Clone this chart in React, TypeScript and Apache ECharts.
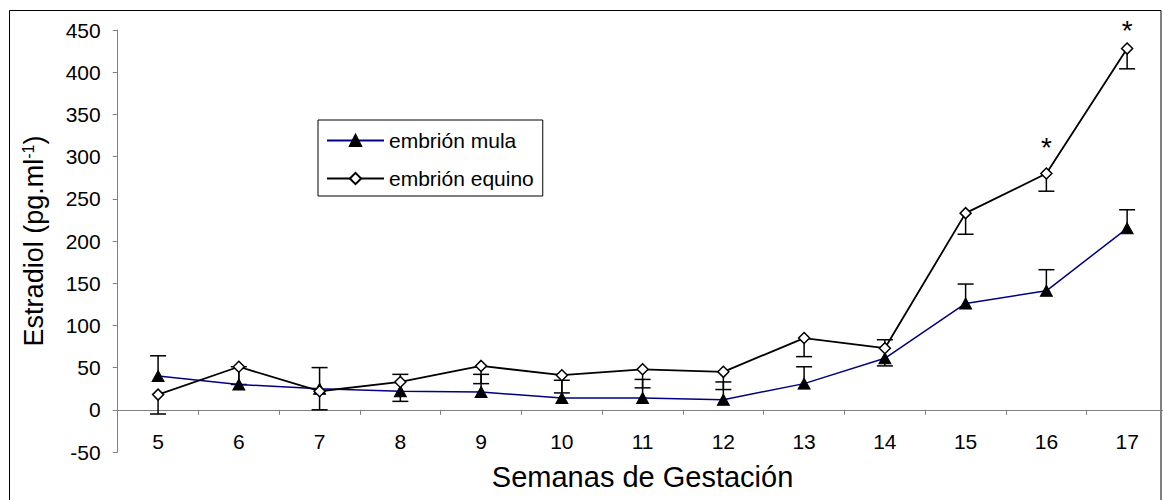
import React, { useEffect, useRef } from 'react';
import * as echarts from 'echarts';

const weeks = ['5', '6', '7', '8', '9', '10', '11', '12', '13', '14', '15', '16', '17'];
const mulaMean = [40, 30, 25, 22, 21, 14, 14, 12, 31, 61, 126, 141, 215];
const mulaErr = [24, 21, 25, 20, 21, 21, 22, 21, 20, 22, 23, 25, 22];
const equinoMean = [18, 51, 22, 33, 52, 41, 48, 45, 85, 73, 233, 280, 428];
const equinoErr = [23, 21, 22, 23, 21, 21, 22, 21, 22, 21, 25, 21, 24];
const significance = ['', '', '', '', '', '', '', '', '', '', '', '*', '*'];
const yMin = -50;
const yMax = 450;
const yStep = 50;

const FONT = 'Liberation Sans, Arial, sans-serif';

function errorRender(params: any, api: any) {
  const p0 = api.coord([api.value(0), api.value(1)]);
  const p1 = api.coord([api.value(0), api.value(2)]);
  const half = 8;
  const style = { stroke: '#000', lineWidth: 1.5 };
  return {
    type: 'group',
    children: [
      { type: 'line', shape: { x1: p0[0], y1: p0[1], x2: p1[0], y2: p1[1] }, style },
      { type: 'line', shape: { x1: p1[0] - half, y1: p1[1], x2: p1[0] + half, y2: p1[1] }, style },
    ],
  };
}

export default function App() {
  const ref = useRef<HTMLDivElement>(null);
  useEffect(() => {
    if (!ref.current) return;
    const chart = echarts.init(ref.current, null, { renderer: 'svg' });
    const axisGray = '#808080';
    const lastIdx = weeks.length - 1;
    chart.setOption({
      animation: false,
      backgroundColor: '#fff',
      textStyle: { fontFamily: FONT, color: '#000' },
      graphic: [
        {
          type: 'rect',
          z: 0,
          shape: { x: 9.5, y: 10.5, width: 1151.5, height: 500 },
          style: { fill: 'none', stroke: '#000', lineWidth: 1 },
        },
      ],
      grid: { left: 117.7, right: -4.5, top: 30, bottom: 48, containLabel: false, outerBoundsMode: 'none' },
      legend: {
        orient: 'vertical',
        left: 318,
        top: 120,
        padding: [10, 9, 7, 8],
        itemWidth: 57,
        itemHeight: 14,
        itemGap: 17,
        borderColor: '#000',
        borderWidth: 1,
        backgroundColor: '#fff',
        textStyle: { fontFamily: FONT, fontSize: 21, color: '#000', lineHeight: 21 },
        data: ['embrión mula', 'embrión equino'],
      },
      xAxis: {
        type: 'category',
        data: weeks,
        boundaryGap: true,
        name: 'Semanas de Gestación',
        nameLocation: 'middle',
        nameGap: 10,
        nameMoveOverlap: false,
        nameTextStyle: { fontFamily: FONT, fontSize: 29, color: '#000' },
        axisLine: { onZero: true, lineStyle: { color: axisGray, width: 1 } },
        axisTick: { show: true, length: 5, lineStyle: { color: axisGray } },
        axisLabel: { fontFamily: FONT, fontSize: 21, color: '#000', margin: -21.5 },
        splitLine: { show: false },
      },
      yAxis: {
        type: 'value',
        min: yMin,
        max: yMax,
        interval: yStep,
        name: 'Estradiol (pg.ml{sup|-1})',
        nameLocation: 'middle',
        nameRotate: 90,
        nameGap: 70,
        nameTextStyle: {
          fontFamily: FONT,
          fontSize: 27,
          color: '#000',
          lineHeight: 27,
          rich: {
            sup: { fontFamily: FONT, fontSize: 16, lineHeight: 16, verticalAlign: 'top', color: '#000' },
          },
        },
        axisLine: { show: true, lineStyle: { color: axisGray, width: 1 } },
        axisTick: { show: true, length: 5, lineStyle: { color: axisGray } },
        axisLabel: { fontFamily: FONT, fontSize: 21, color: '#000', margin: 17 },
        splitLine: { show: false },
      },
      series: [
        {
          type: 'custom',
          name: 'err mula',
          renderItem: errorRender,
          encode: { x: 0, y: [1, 2] },
          data: weeks.map((_, i) => [i, mulaMean[i], mulaMean[i] + mulaErr[i]]),
          z: 1,
          silent: true,
        },
        {
          type: 'custom',
          name: 'err equino',
          renderItem: errorRender,
          encode: { x: 0, y: [1, 2] },
          data: weeks.map((_, i) => [i, equinoMean[i], equinoMean[i] - equinoErr[i]]),
          z: 1,
          silent: true,
        },
        {
          type: 'line',
          name: 'embrión mula',
          data: mulaMean,
          symbol: 'triangle',
          symbolSize: [12, 11],
          showAllSymbol: true,
          lineStyle: { color: '#000080', width: 1.5 },
          itemStyle: { color: '#000', borderColor: '#000', borderWidth: 1 },
          z: 3,
        },
        {
          type: 'line',
          name: 'embrión equino',
          data: equinoMean.map((v, i) => ({
            value: v,
            label: { show: significance[i] !== '', distance: i === lastIdx ? -2 : 6 },
          })),
          symbol: 'diamond',
          symbolSize: 11,
          showAllSymbol: true,
          lineStyle: { color: '#000', width: 1.8 },
          itemStyle: { color: '#fff', borderColor: '#000', borderWidth: 1.5 },
          label: {
            show: false,
            position: 'top',
            distance: 6,
            fontFamily: FONT,
            fontSize: 28,
            color: '#000',
            formatter: (p: any) => significance[p.dataIndex],
          },
          z: 4,
        },
      ],
    });
    return () => chart.dispose();
  }, []);
  return (
    <div
      ref={ref}
      style={{ position: 'fixed', left: 0, top: 0, width: 1163, height: 500, background: '#fff' }}
    />
  );
}
